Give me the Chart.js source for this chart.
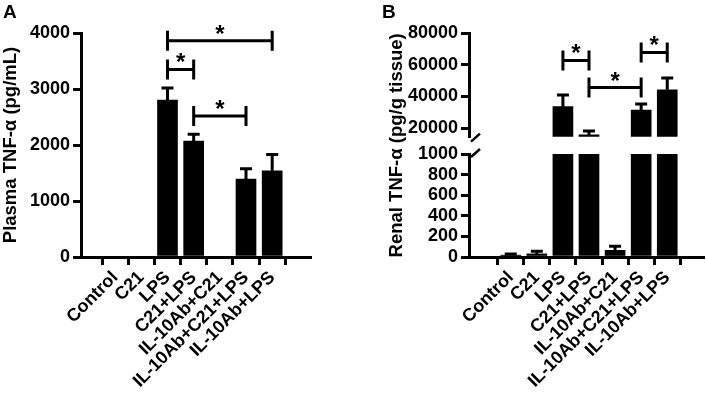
<!DOCTYPE html>
<html>
<head>
<meta charset="utf-8">
<script src="https://cdn.jsdelivr.net/npm/chart.js@4.4.1/dist/chart.umd.min.js"></script>
<style>
  html, body { margin: 0; padding: 0; background: #fff; }
  #wrap { position: relative; width: 706px; height: 398px; overflow: hidden; }
  canvas { position: absolute; top: 0; }
  #chartA { left: 0; }
  #chartB { left: 353px; }
  .panel-label { position: absolute; font: bold 19px 'Liberation Sans', Arial, sans-serif; line-height: 1; color: #000; }
</style>
</head>
<body>
<div id="wrap">
  <canvas id="chartA" width="353" height="398"></canvas>
  <canvas id="chartB" width="353" height="398"></canvas>
  <div class="panel-label" style="left:3px; top:2px">A</div>
  <div class="panel-label" style="left:382px; top:2px">B</div>
</div>
<script>
const groups = ['Control', 'C21', 'LPS', 'C21+LPS', 'IL-10Ab+C21', 'IL-10Ab+C21+LPS', 'IL-10Ab+LPS'];

// A: plasma TNF-α (pg/mL), mean and SEM
const plasmaMean = [0, 0, 2800, 2070, 0, 1390, 1540];
const plasmaSem = [0, 0, 220, 120, 0, 185, 290];
const plasmaTicks = [0, 1000, 2000, 3000, 4000];
// [from group, to group, bracket height]
const plasmaSig = [[2, 6, 3860], [2, 3, 3350], [3, 5, 2520]];

// B: renal TNF-α (pg/g tissue), broken axis
const renalMean = [18, 30, 33600, 15800, 65, 31500, 44200];
const renalSem = [12, 25, 7400, 2500, 40, 3800, 7400];
const renalLowTicks = [0, 200, 400, 600, 800, 1000];
const renalHighTicks = [20000, 40000, 60000, 80000];
const renalSig = [[2, 3, 62700], [3, 5, 45650], [5, 6, 67750]];

const LOW_MAX = 1000;
const HIGH_MIN = 14700;
const HIGH_MAX = 80000;

const FONT = "'Liberation Sans', Arial, Helvetica, sans-serif";
const tickFont = { family: FONT, size: 18, weight: 'bold' };
const titleFont = { family: FONT, size: 18.5, weight: 'bold' };

function errorBars(means, sems, scaleFor) {
  return {
    id: 'errorBars',
    afterDatasetsDraw(chart) {
      const ctx = chart.ctx, xs = chart.scales.x;
      ctx.save();
      ctx.strokeStyle = '#000';
      ctx.lineWidth = 3;
      means.forEach((m, i) => {
        if (!sems[i]) return;
        const ys = chart.scales[scaleFor(m)];
        const px = xs.getPixelForValue(i);
        const top = ys.getPixelForValue(m + sems[i]);
        const base = ys.getPixelForValue(m);
        ctx.beginPath();
        ctx.moveTo(px, base);
        ctx.lineTo(px, top);
        ctx.moveTo(px - 6, top);
        ctx.lineTo(px + 6, top);
        ctx.stroke();
      });
      ctx.restore();
    }
  };
}

function brackets(sig, yId) {
  return {
    id: 'brackets',
    afterDatasetsDraw(chart) {
      const ctx = chart.ctx, xs = chart.scales.x, ys = chart.scales[yId];
      ctx.save();
      ctx.strokeStyle = '#000';
      ctx.fillStyle = '#000';
      ctx.lineWidth = 3;
      ctx.font = 'bold 24px ' + FONT;
      ctx.textAlign = 'center';
      ctx.textBaseline = 'alphabetic';
      sig.forEach(([a, b, h]) => {
        const x1 = xs.getPixelForValue(a), x2 = xs.getPixelForValue(b);
        const py = ys.getPixelForValue(h);
        ctx.beginPath();
        ctx.moveTo(x1, py); ctx.lineTo(x2, py);
        ctx.moveTo(x1, py - 10); ctx.lineTo(x1, py + 10);
        ctx.moveTo(x2, py - 10); ctx.lineTo(x2, py + 10);
        ctx.stroke();
        ctx.fillText('*', (x1 + x2) / 2, py + 1);
      });
      ctx.restore();
    }
  };
}

// the two slashes where the renal y axis is cut
const axisBreak = {
  id: 'axisBreak',
  afterDraw(chart) {
    const ctx = chart.ctx, lo = chart.scales.yLow, hi = chart.scales.yHigh;
    const ax = chart.chartArea.left;
    ctx.save();
    ctx.strokeStyle = '#000';
    ctx.lineWidth = 2.5;
    [hi.bottom + 1, lo.top - 1].forEach(py => {
      ctx.beginPath();
      ctx.moveTo(ax + 2, py + 4);
      ctx.lineTo(ax + 11, py - 4);
      ctx.stroke();
    });
    ctx.restore();
  }
};

function xAxis(min, max) {
  return {
    type: 'linear', min, max,
    afterBuildTicks: s => { s.ticks = groups.map((_, i) => ({ value: i })); },
    afterFit: s => { s.height = 141; },
    ticks: { autoSkip: false, minRotation: 45, maxRotation: 45, padding: 2, color: '#000', font: tickFont,
      callback: v => groups[v] },
    grid: { drawOnChartArea: false, tickLength: 8, color: '#000', lineWidth: 3 },
    border: { color: '#000', width: 3 }
  };
}

function yAxis(min, max, ticks, width, extra) {
  return Object.assign({
    type: 'linear', position: 'left', min, max,
    afterBuildTicks: s => { s.ticks = ticks.map(v => ({ value: v })); },
    afterFit: s => { s.width = width; },
    ticks: { color: '#000', font: tickFont, padding: 3, autoSkip: false, callback: v => String(v) },
    grid: { drawOnChartArea: false, tickLength: 8, color: '#000', lineWidth: 3 },
    border: { color: '#000', width: 3 }
  }, extra);
}

const common = {
  responsive: false,
  animation: false,
  plugins: { legend: { display: false }, tooltip: { enabled: false } }
};

new Chart(document.getElementById('chartA'), {
  type: 'bar',
  data: {
    datasets: [{
      data: plasmaMean.map((v, i) => ({ x: i, y: v })),
      backgroundColor: '#000',
      barThickness: 20
    }]
  },
  options: Object.assign({}, common, {
    layout: { padding: { left: 0, top: 33, right: 43, bottom: 0 } },
    scales: {
      x: xAxis(-0.68, 6.82),
      y: yAxis(0, 4000, plasmaTicks, 81, {
        title: { display: true, text: 'Plasma TNF-α (pg/mL)', color: '#000', font: titleFont, padding: 0 }
      })
    }
  }),
  plugins: [errorBars(plasmaMean, plasmaSem, () => 'y'), brackets(plasmaSig, 'y')]
});

new Chart(document.getElementById('chartB'), {
  type: 'bar',
  data: {
    datasets: [{
      data: renalMean.map((v, i) => ({ x: i, y: Math.min(v, LOW_MAX) })),
      yAxisID: 'yLow',
      backgroundColor: '#000',
      barThickness: 20,
      grouped: false
    }, {
      data: renalMean.map((v, i) => ({ x: i, y: [HIGH_MIN, v] })).filter(d => d.y[1] > HIGH_MIN),
      yAxisID: 'yHigh',
      backgroundColor: '#000',
      barThickness: 20,
      grouped: false
    }]
  },
  options: Object.assign({}, common, {
    layout: { padding: { left: 33, top: 33, right: 3, bottom: 0 } },
    scales: {
      x: xAxis(-0.96, 6.73),
      yLow: yAxis(0, LOW_MAX, renalLowTicks, 83, { stack: 'renal', stackWeight: 102.7 }),
      yGap: {
        type: 'linear', position: 'left', min: 0, max: 1, stack: 'renal', stackWeight: 17.3,
        afterFit: s => { s.width = 83; },
        ticks: { display: false },
        grid: { display: false },
        border: { display: false },
        title: { display: true, text: 'Renal TNF-α (pg/g tissue)', color: '#000', font: titleFont, padding: 0 }
      },
      yHigh: yAxis(HIGH_MIN, HIGH_MAX, renalHighTicks, 83, { stack: 'renal', stackWeight: 103.4 })
    }
  }),
  plugins: [errorBars(renalMean, renalSem, m => (m > LOW_MAX ? 'yHigh' : 'yLow')), brackets(renalSig, 'yHigh'), axisBreak]
});
</script>
</body>
</html>
